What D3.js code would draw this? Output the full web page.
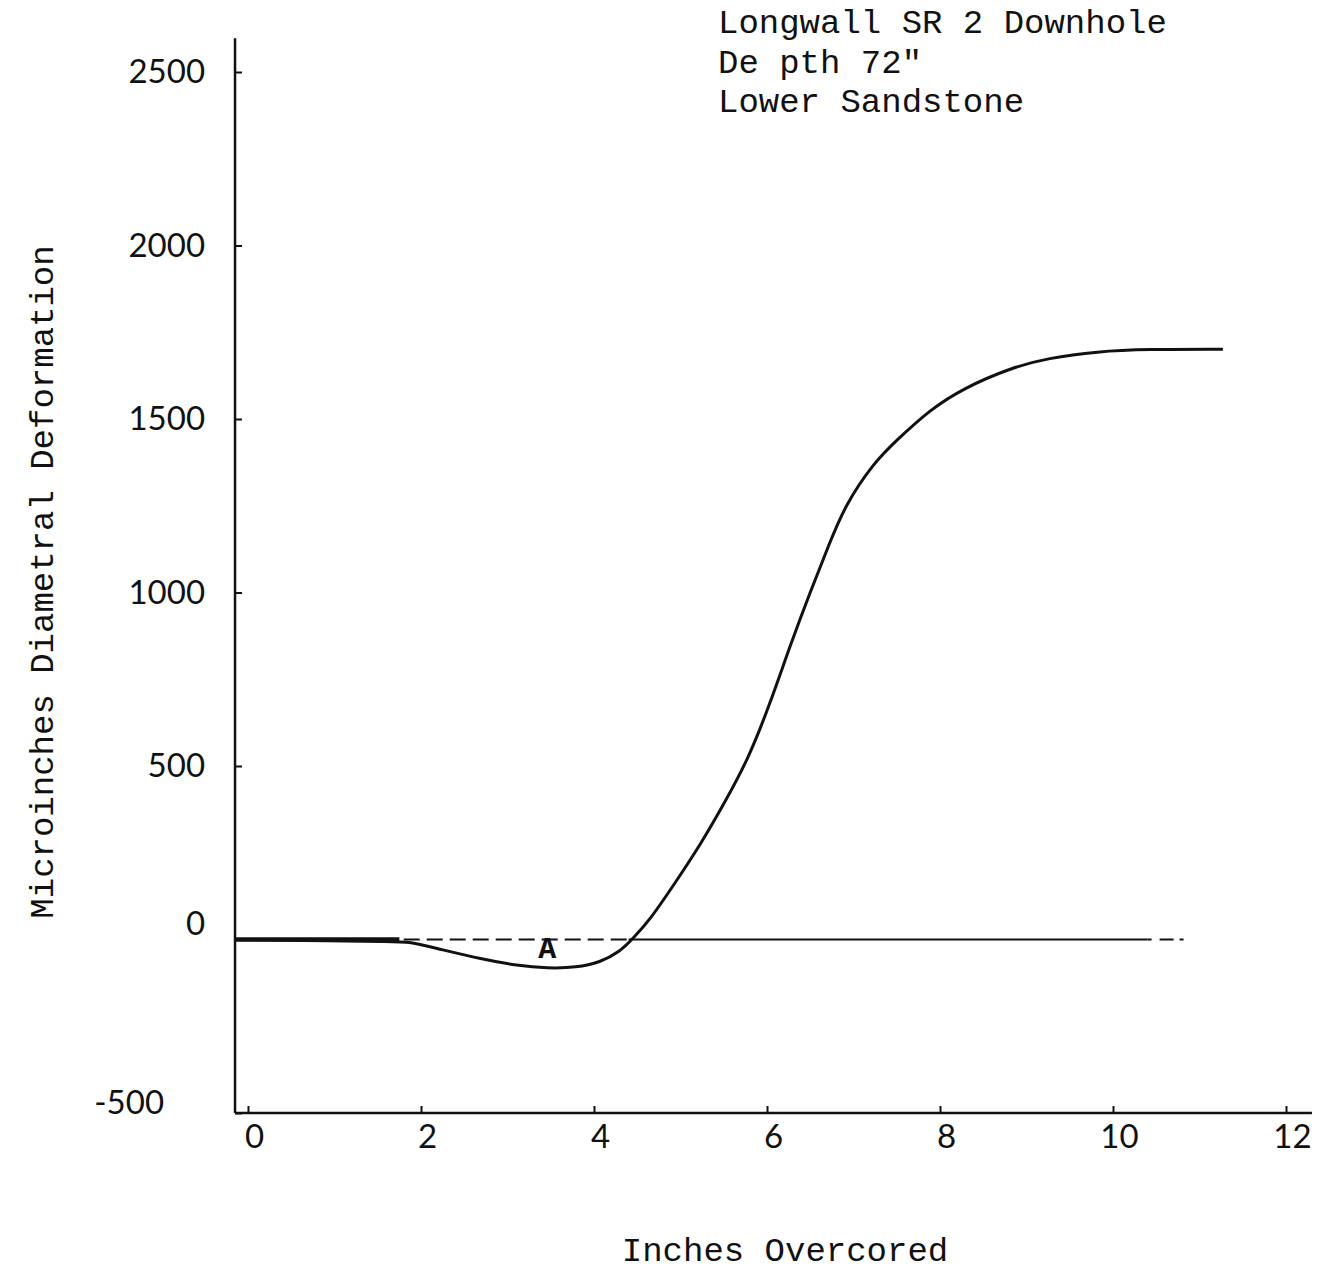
<!DOCTYPE html>
<html>
<head>
<meta charset="utf-8">
<script src="https://cdnjs.cloudflare.com/ajax/libs/d3/7.8.5/d3.min.js"></script>
<style>
  body { margin: 0; background: #fff; }
  .tick text { font-family: Lato, "DejaVu Sans", sans-serif; font-weight: 400; font-size: 33px; fill: #111; }
  .mono { font-family: "Liberation Mono", "DejaVu Sans Mono", monospace; font-size: 34px; fill: #111; }
</style>
</head>
<body>
<script>
// readings (inches overcored vs microinches)
var xTicks = [0, 2, 4, 6, 8, 10, 12];
var yTicks = [-500, 0, 500, 1000, 1500, 2000, 2500];

var curveX = [-0.15, 0.6, 1.7, 1.84, 2.14, 2.72, 3.11, 3.46, 3.8, 4.07, 4.3, 4.45, 4.65, 4.91, 5.23, 5.5, 5.78, 6.03, 6.27, 6.5, 6.72, 6.9, 7.23, 7.5, 7.88, 8.27, 8.84, 9.24, 9.82, 10.39, 11.27];
var curveY = [0, -3, -6, -6, -23, -58, -75, -83, -81, -66, -35, 3, 58, 153, 273, 390, 518, 676, 849, 1002, 1140, 1250, 1373, 1439, 1526, 1589, 1649, 1675, 1695, 1701, 1701];

var titleLines = ["Longwall SR 2 Downhole", "De pth 72\"", "Lower Sandstone"];
var xLabel = "Inches Overcored";
var yLabel = "Microinches Diametral Deformation";

var width = 1324, height = 1270;

var svg = d3.select("body").append("svg")
  .attr("width", width)
  .attr("height", height);

var x = d3.scaleLinear().domain([0, 12]).range([248, 1286]);
var y = d3.scaleLinear().domain([-500, 2500]).range([1113, 72]);

var fmt = function(d) { return String(d); };

// x axis
var gx = svg.append("g")
  .attr("transform", "translate(0," + y(-500) + ")")
  .call(d3.axisBottom(x).tickValues(xTicks).tickFormat(fmt).tickSizeInner(-7).tickSizeOuter(0).tickPadding(12));
gx.select(".domain").remove();
gx.selectAll(".tick line").attr("stroke", "#111").attr("stroke-width", 2);
gx.selectAll(".tick text").attr("dx", 6);
gx.append("line")
  .attr("x1", x(-0.15)).attr("x2", x(12.3))
  .attr("y1", 0).attr("y2", 0)
  .attr("stroke", "#111").attr("stroke-width", 2.5);

// y axis
var gy = svg.append("g")
  .attr("transform", "translate(" + x(-0.15) + ",0)")
  .call(d3.axisLeft(y).tickValues(yTicks).tickFormat(fmt).tickSizeInner(-7).tickSizeOuter(0).tickPadding(30));
gy.select(".domain").remove();
gy.selectAll(".tick line").attr("stroke", "#111").attr("stroke-width", 2);
gy.selectAll(".tick text")
  .attr("dy", function(d) { return d === 0 ? "-0.15em" : (d === -500 ? "0.02em" : "0.32em"); })
  .attr("dx", function(d) { return d === -500 ? -41 : 0; });
gy.append("line")
  .attr("x1", 0).attr("x2", 0)
  .attr("y1", y(-500)).attr("y2", y(2597))
  .attr("stroke", "#111").attr("stroke-width", 2.5);

// zero reference line: dashed, solid, then dash-dot to the end
var zeroLine = d3.line()
  .x(function(d) { return x(d); })
  .y(function() { return y(0); });

svg.append("path")
  .attr("d", zeroLine([1.8, 4.4]))
  .attr("fill", "none").attr("stroke", "#111").attr("stroke-width", 2.2)
  .attr("stroke-dasharray", "16,7");
svg.append("path")
  .attr("d", zeroLine([4.4, 10.4]))
  .attr("fill", "none").attr("stroke", "#111").attr("stroke-width", 2.2);
svg.append("path")
  .attr("d", zeroLine([10.4, 10.82]))
  .attr("fill", "none").attr("stroke", "#111").attr("stroke-width", 2.2)
  .attr("stroke-dasharray", "4,8,14,6");

// deformation curve
var pts = curveX.map(function(d, i) { return [d, curveY[i]]; });
var line = d3.line()
  .x(function(d) { return x(d[0]); })
  .y(function(d) { return y(d[1]); })
  .curve(d3.curveBasis);

svg.append("path")
  .attr("d", line(pts))
  .attr("fill", "none")
  .attr("stroke", "#111")
  .attr("stroke-width", 3);

// thick start where curve lies on the zero line
svg.append("path")
  .attr("d", zeroLine([-0.15, 1.75]))
  .attr("fill", "none").attr("stroke", "#111").attr("stroke-width", 4.5);

svg.append("text")
  .attr("class", "mono")
  .attr("x", x(3.46)).attr("y", y(-52))
  .attr("text-anchor", "middle")
  .style("font-size", "30px")
  .style("font-weight", "bold")
  .text("A");

// title block
svg.selectAll(".title")
  .data(titleLines)
  .enter()
  .append("text")
    .attr("class", "mono title")
    .attr("x", 718)
    .attr("y", function(d, i) { return 33 + i * 39.5; })
    .text(function(d) { return d; });

svg.append("text")
  .attr("class", "mono")
  .attr("x", 785).attr("y", 1261)
  .attr("text-anchor", "middle")
  .text(xLabel);

svg.append("text")
  .attr("class", "mono")
  .attr("transform", "translate(53,582) rotate(-90)")
  .attr("text-anchor", "middle")
  .text(yLabel);
</script>
</body>
</html>
